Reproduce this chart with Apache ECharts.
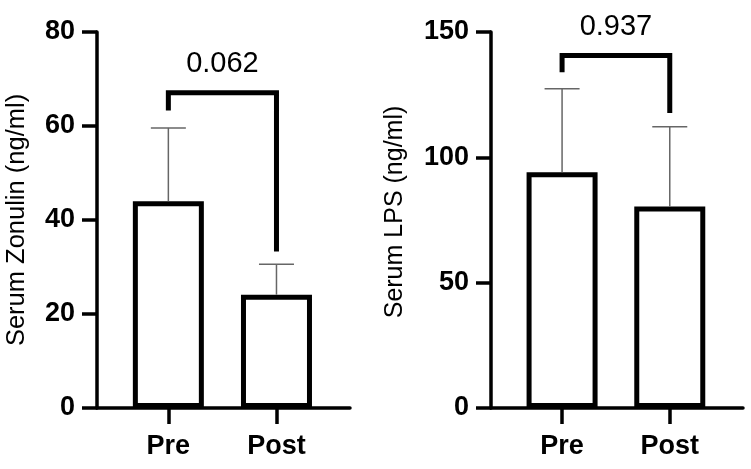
<!DOCTYPE html>
<html><head><meta charset="utf-8">
<script src="https://cdn.jsdelivr.net/npm/echarts@6/dist/echarts.min.js"></script>
<style>html,body{margin:0;padding:0;background:#fff}#c{width:751px;height:469px}</style>
</head><body><div id="c"></div>
<script>
// ---- data ----
const categories = ['Pre', 'Post'];
const zonulinTitle = 'Serum Zonulin (ng/ml)';
const zonulinMean = [44.0, 24.1];
const zonulinErrTop = [59.6, 30.6];
const zonulinBracket = [63.3, 67.1, 33.3]; // left leg end, bar top, right leg end
const zonulinP = '0.062';
const zonulinAxis = [0, 80, 20]; // min, max, interval

const lpsTitle = 'Serum LPS (ng/ml)';
const lpsMean = [94.0, 80.4];
const lpsErrTop = [127.4, 112.2];
const lpsBracket = [133.9, 140.6, 117.7];
const lpsP = '0.937';
const lpsAxis = [0, 150, 50];

// ---- styling ----
const FONT = '"Liberation Sans", Arial, Helvetica, sans-serif';
const AXW = 3.5;

function xAxisFor(gi) {
  return {
    type: 'value', gridIndex: gi, min: 0.34, max: 2.68,
    splitLine: { show: false },
    axisLine: { onZero: false, lineStyle: { color: '#000', width: AXW } },
    axisTick: { show: true, customValues: [1, 2], length: 16, lineStyle: { color: '#000', width: AXW } },
    axisLabel: {
      customValues: [1, 2], margin: 25,
      formatter: v => categories[Math.round(v) - 1] || '',
      fontSize: 27, fontWeight: 'bold', color: '#000', fontFamily: FONT
    }
  };
}
function yAxisFor(gi, ax, title, gap, size, pad) {
  return {
    type: 'value', gridIndex: gi, min: ax[0], max: ax[1], interval: ax[2],
    splitLine: { show: false },
    name: title, nameLocation: 'middle', nameRotate: 90, nameGap: gap,
    nameTextStyle: { fontSize: size, color: '#000', fontFamily: FONT, padding: pad },
    axisLine: { show: true, onZero: false, lineStyle: { color: '#000', width: AXW } },
    axisTick: { show: true, length: 15, lineStyle: { color: '#000', width: AXW } },
    axisLabel: { margin: 22, fontSize: 27, fontWeight: 'bold', color: '#000', fontFamily: FONT }
  };
}
function barSeries(gi, mean) {
  return {
    type: 'bar', xAxisIndex: gi, yAxisIndex: gi, barWidth: 71, z: 2,
    data: mean.map((v, i) => [i + 1, v]),
    itemStyle: { color: '#fff', borderColor: '#000', borderWidth: 5 }
  };
}
function errSeries(gi, mean, top) {
  return {
    type: 'custom', xAxisIndex: gi, yAxisIndex: gi, z: 3,
    data: mean.map((v, i) => [i + 1, v, top[i]]),
    renderItem(params, api) {
      const x = api.value(0);
      const p0 = api.coord([x, api.value(1)]);
      const p1 = api.coord([x, api.value(2)]);
      const st = { stroke: '#666', lineWidth: 1.5 };
      return { type: 'group', children: [
        { type: 'line', shape: { x1: p0[0], y1: p0[1], x2: p1[0], y2: p1[1] }, style: st },
        { type: 'line', shape: { x1: p1[0] - 17.5, y1: p1[1], x2: p1[0] + 17.5, y2: p1[1] }, style: st }
      ]};
    }
  };
}
function bracketSeries(gi, br, p) {
  return {
    type: 'custom', xAxisIndex: gi, yAxisIndex: gi, z: 4, clip: false,
    data: [[1, 2, br[0], br[1], br[2]]],
    renderItem(params, api) {
      const a = api.coord([api.value(0), api.value(2)]);
      const b = api.coord([api.value(0), api.value(3)]);
      const c = api.coord([api.value(1), api.value(3)]);
      const d = api.coord([api.value(1), api.value(4)]);
      return { type: 'group', children: [
        { type: 'polyline', shape: { points: [a, b, c, d] },
          style: { stroke: '#000', lineWidth: 5, fill: null, lineJoin: 'miter' } },
        { type: 'text', x: (b[0] + c[0]) / 2, y: b[1] - 29,
          style: { text: p, fontSize: 29, fontFamily: FONT, fill: '#000', align: 'center', verticalAlign: 'middle' } }
      ]};
    }
  };
}

const chart = echarts.init(document.getElementById('c'), null, { renderer: 'canvas' });
chart.setOption({
  animation: false,
  backgroundColor: '#fff',
  grid: [
    { left: 97, top: 32, width: 253, height: 376 },
    { left: 491, top: 32, width: 252, height: 376 }
  ],
  xAxis: [xAxisFor(0), xAxisFor(1)],
  yAxis: [
    yAxisFor(0, zonulinAxis, zonulinTitle, 67, 25.5, [0, 0, 0, 0]),
    yAxisFor(1, lpsAxis, lpsTitle, 83, 25, [0, 0, 0, 16])
  ],
  series: [
    barSeries(0, zonulinMean), errSeries(0, zonulinMean, zonulinErrTop), bracketSeries(0, zonulinBracket, zonulinP),
    barSeries(1, lpsMean), errSeries(1, lpsMean, lpsErrTop), bracketSeries(1, lpsBracket, lpsP)
  ]
});
</script></body></html>
